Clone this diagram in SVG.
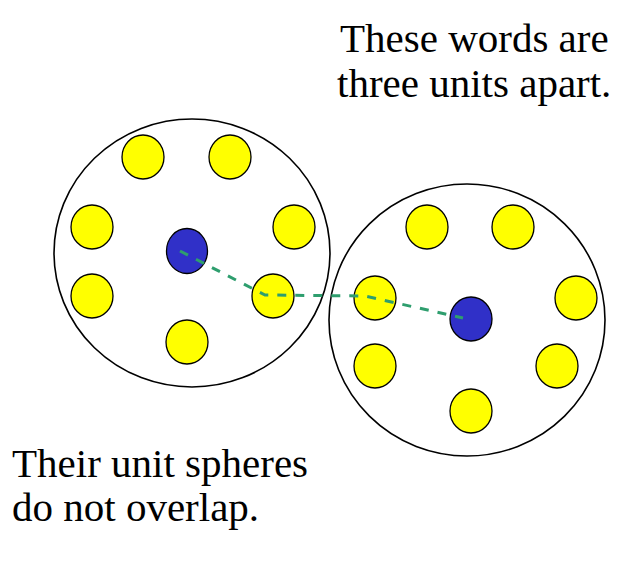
<svg xmlns="http://www.w3.org/2000/svg" width="634" height="567" viewBox="0 0 634 567">
<style>
.big{fill:none;stroke:#000;stroke-width:1.6}
.y{fill:#ffff00;stroke:#000;stroke-width:1.3}
.b{fill:#3030c8;stroke:#000;stroke-width:1.3}
.t{font-family:"Liberation Serif","Times New Roman",serif;font-size:41px;fill:#000}
.c{fill:none;stroke:#2e9e6e;stroke-width:3;stroke-dasharray:9 9}
</style>
<rect width="634" height="567" fill="#fff"/>
<g id="sphere-left">
<ellipse class="big" cx="192" cy="253" rx="138" ry="134"/>
<ellipse class="y" cx="143" cy="157" rx="21" ry="22"/>
<ellipse class="y" cx="230" cy="157" rx="21" ry="22"/>
<ellipse class="y" cx="92" cy="227" rx="21" ry="22"/>
<ellipse class="y" cx="294" cy="227" rx="21" ry="22"/>
<ellipse class="y" cx="92" cy="296" rx="21" ry="22"/>
<ellipse class="y" cx="273" cy="296" rx="21" ry="22"/>
<ellipse class="y" cx="187" cy="342" rx="21" ry="22"/>
<ellipse class="b" cx="187" cy="251" rx="20.5" ry="22.5"/>
</g>
<g id="sphere-right">
<ellipse class="big" cx="467" cy="320" rx="138" ry="136"/>
<ellipse class="y" cx="427" cy="227" rx="21" ry="22"/>
<ellipse class="y" cx="513" cy="227" rx="21" ry="22"/>
<ellipse class="y" cx="375" cy="298" rx="21" ry="22"/>
<ellipse class="y" cx="576" cy="298" rx="21" ry="22"/>
<ellipse class="y" cx="375" cy="366" rx="21" ry="22"/>
<ellipse class="y" cx="557" cy="366" rx="21" ry="22"/>
<ellipse class="y" cx="471" cy="411" rx="21" ry="22"/>
<ellipse class="b" cx="471" cy="319" rx="21" ry="22"/>
</g>
<g id="connectors">
<polyline class="c" points="180,251 265,295 365,296 463,318"/>
</g>
<g id="label-top">
<text class="t" x="340" y="52">These words are</text>
<text class="t" x="337" y="97">three units apart.</text>
</g>
<g id="label-bottom">
<text class="t" x="12" y="477">Their unit spheres</text>
<text class="t" x="12" y="521">do not overlap.</text>
</g>
</svg>
